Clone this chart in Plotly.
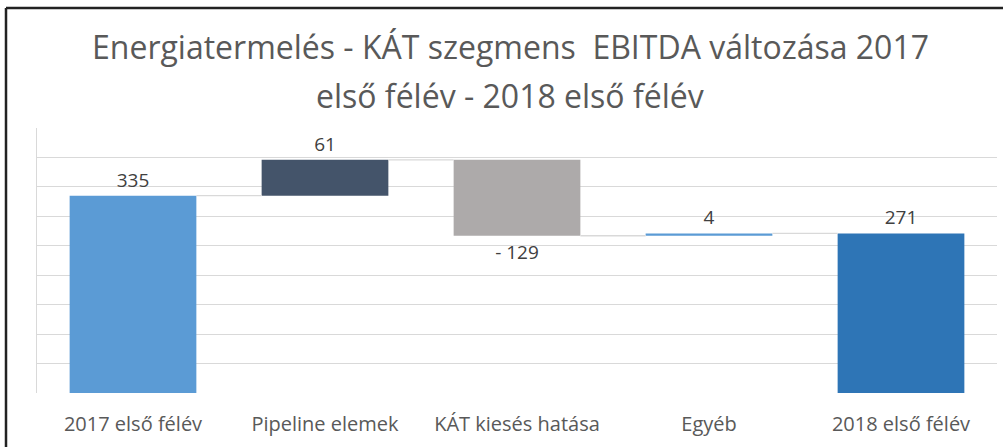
import plotly.graph_objects as go

categories = ["2017 első félév", "Pipeline elemek", "KÁT kiesés hatása", "Egyéb", "2018 első félév"]
values = [335, 61, -129, 4, 271]
measures = ["absolute", "relative", "relative", "relative", "total"]
colors = ["#5B9BD5", "#44546A", "#ADAAAA", "#5B9BD5", "#2E75B6"]
title_lines = ["Energiatermelés - KÁT szegmens  EBITDA változása 2017", "első félév - 2018 első félév"]

# compute bases and heights from the data
bases, heights, ends = [], [], []
running = 0
for v, m in zip(values, measures):
    if m == "absolute":
        bases.append(0); heights.append(v); running = v
    elif m == "total":
        bases.append(0); heights.append(running)
    else:
        bases.append(running); heights.append(v); running += v
    ends.append(running)

labels = [f"- {abs(v)}" if v < 0 else f"{v}" for v in values]
xs = list(range(len(categories)))
W = 0.66
FONT = "Open Sans"

fig = go.Figure()
# connectors
for i in range(len(xs) - 1):
    lvl = ends[i]
    fig.add_trace(go.Scatter(x=[xs[i] + W / 2, xs[i + 1] - W / 2], y=[lvl, lvl], mode="lines",
                             line=dict(color="#D9D9D9", width=1.3), hoverinfo="skip", showlegend=False))

fig.add_trace(go.Bar(x=xs, y=heights, base=bases, width=W, marker=dict(color=colors, line=dict(width=0)),
                     text=labels, textposition="outside", cliponaxis=False,
                     textfont=dict(family=FONT, size=19, color="#404040"),
                     showlegend=False))

fig.update_layout(
    width=1003, height=447,
    margin=dict(l=37, r=6, t=128, b=54),
    paper_bgcolor="white", plot_bgcolor="white",
    bargap=0.34,
)
for txt, py in zip(title_lines, [1.3057, 1.1245]):
    fig.add_annotation(text=txt, xref="paper", yref="paper", x=(510 - 37) / 960, y=py,
                       xanchor="center", yanchor="middle", showarrow=False,
                       font=dict(family=FONT, size=32, color="#595959"))

fig.update_xaxes(range=[-0.5, len(xs) - 0.5], tickvals=xs, ticktext=categories, showgrid=False, zeroline=False,
                 tickfont=dict(family=FONT, size=20, color="#595959"), ticks="", ticklen=0,
                 ticklabelstandoff=17)
fig.update_yaxes(range=[0, 450], dtick=50, showgrid=True, gridcolor="#D9D9D9", gridwidth=1.3,
                 showticklabels=False, zeroline=False, showline=True, linecolor="#D9D9D9", linewidth=1.3,
                 mirror=False)
# outer frame lines
fig.add_shape(type="line", xref="paper", yref="paper", x0=-31/960, x1=1.01, y0=1 + 120/265, y1=1 + 120/265,
              line=dict(color="#222222", width=2.5))
fig.add_shape(type="line", xref="paper", yref="paper", x0=-31/960, x1=-31/960, y0=1 + 120/265, y1=-60/265,
              line=dict(color="#222222", width=2.5))

fig.write_html("out.html")
